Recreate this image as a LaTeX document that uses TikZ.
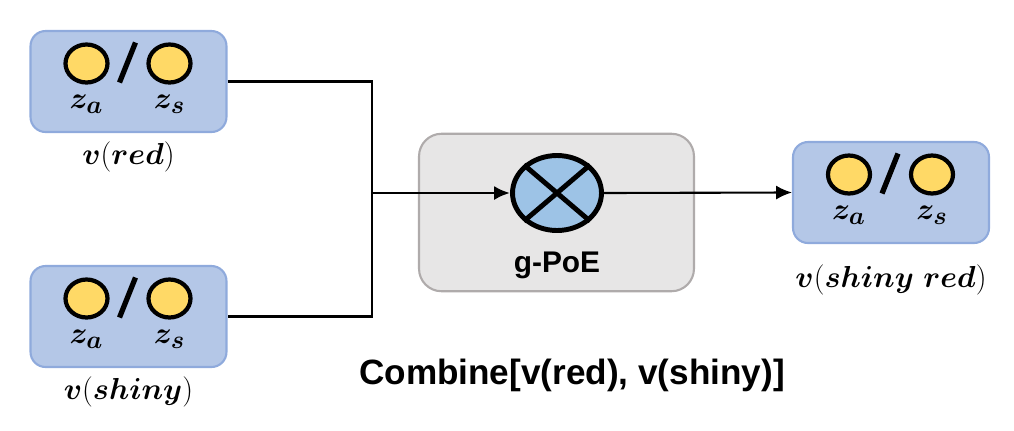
\documentclass[tikz,border=0pt]{standalone}
\usepackage{fontspec}
\setsansfont{Liberation Sans}
\usepackage{bm}
\usetikzlibrary{positioning,shapes.geometric,arrows.meta}

\definecolor{boxfill}{HTML}{B4C7E7}
\definecolor{boxedge}{HTML}{8FAADC}
\definecolor{latentfill}{HTML}{FFD966}
\definecolor{poefill}{HTML}{E7E6E6}
\definecolor{poeedge}{HTML}{AFABAB}
\definecolor{prodfill}{HTML}{9DC3E6}

\tikzset{
    latentbox/.style={draw=boxedge, fill=boxfill, line width=1.2pt, rounded corners=0.3cm,
        minimum width=3.92cm, minimum height=2.02cm},
    latent/.style={ellipse, draw=black, fill=latentfill, line width=2.4pt, inner sep=0pt,
        minimum width=0.84cm, minimum height=0.76cm},
    slash/.style={line width=3pt},
    zlabel/.style={font=\fontsize{19}{22}\selectfont, inner sep=0pt},
    caption/.style={font=\fontsize{18}{21}\selectfont, inner sep=1pt},
    poebox/.style={draw=poeedge, fill=poefill, line width=1.2pt, rounded corners=0.45cm,
        minimum width=5.5cm, minimum height=3.15cm},
    product/.style={ellipse, draw=black, fill=prodfill, line width=2.8pt, inner sep=0pt,
        minimum width=1.78cm, minimum height=1.5cm},
    link/.style={line width=1.2pt},
    feed/.style={line width=1.7pt, -{Latex[length=9pt,width=8pt]}},
}

\begin{document}
\begin{tikzpicture}[x=0.02cm, y=-0.02cm]

\useasboundingbox (0,0) rectangle (1014,430);

% latent boxes
\node[latentbox] (red) at (128.5,81.5) {};
\node[latentbox] (shiny) at (128.5,316.5) {};
\node[latentbox] (out) at (891,192.5) {};

\foreach \b in {red, shiny, out} {
    \node[latent] (\b-a) at ([shift={(-42,-18)}]\b.center) {};
    \node[latent] (\b-s) at ([shift={(41,-18)}]\b.center) {};
    \draw[slash] ([shift={(7,-39)}]\b.center) -- ([shift={(-9,1)}]\b.center);
    \node[zlabel] (\b-za) at ([shift={(-42,23)}]\b.center) {$\bm{z_a}$};
    \node[zlabel] (\b-zs) at ([shift={(41,23)}]\b.center) {$\bm{z_s}$};
}

\node[caption, below=0.14cm of red] (red-cap) {$\bm{v}(\bm{red})$};
\node[caption, below=0.14cm of shiny] (shiny-cap) {$\bm{v}(\bm{shiny})$};
\node[caption, below=0.38cm of out] (out-cap) {$\bm{v}(\bm{shiny}\ \bm{red})$};

% g-PoE block
\node[poebox] (poe) at (556.5,212.5) {};
\node[product] (g) at (557,193) {};
\draw[line width=2.8pt] (g.north west) -- (g.south east);
\draw[line width=2.8pt] (g.north east) -- (g.south west);
\node[font=\sffamily\bfseries\fontsize{17}{20}\selectfont] (poe-lbl) at (557,265) {g-PoE};

% connectors
\coordinate (join) at (372,193);
\draw[link] (red.east) -| (join) |- (shiny.east);
\draw[feed] (join) -- (g.west);
\draw[link, -{Latex[length=9pt,width=8pt]}] (g.east) -- (out.west);

\node[font=\sffamily\bfseries\fontsize{20}{24}\selectfont] (combine) at (572,375) {Combine[v(red), v(shiny)]};

\end{tikzpicture}
\end{document}
